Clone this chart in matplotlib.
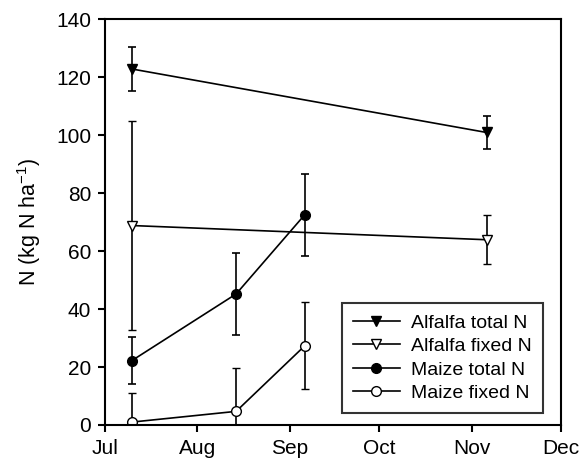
import numpy as np
import matplotlib
matplotlib.use('Agg')
import matplotlib.pyplot as plt

plt.rcParams['font.family'] = ['Liberation Sans', 'DejaVu Sans']
plt.rcParams['mathtext.fontset'] = 'custom'
plt.rcParams['mathtext.rm'] = 'Liberation Sans'
plt.rcParams['mathtext.default'] = 'regular'

# days counted from 1 July
month_ticks = [0, 31, 62, 92, 123, 153]
month_labels = ['Jul', 'Aug', 'Sep', 'Oct', 'Nov', 'Dec']

alfalfa_days = [9, 128]
alfalfa_total = [122.8, 100.9]
alfalfa_total_err = [7.5, 5.7]
alfalfa_fixed = [68.8, 63.9]
alfalfa_fixed_err = [36.0, 8.5]

maize_days = [9, 44, 67]
maize_total = [22.2, 45.2, 72.5]
maize_total_err = [8.1, 14.0, 14.1]
maize_fixed = [1.0, 4.7, 27.3]
maize_fixed_err = [10.2, 14.9, 15.0]

fig = plt.figure(figsize=(5.85, 4.66), dpi=100)
ax = fig.add_axes([0.1795, 0.088, 0.7795, 0.871])

common = dict(color='black', lw=1.2, capsize=3, elinewidth=1.2, capthick=1.2)
h1 = ax.errorbar(alfalfa_days, alfalfa_total, yerr=alfalfa_total_err, marker='v', ms=7,
                 mfc='black', mec='black', **common)
h2 = ax.errorbar(alfalfa_days, alfalfa_fixed, yerr=alfalfa_fixed_err, marker='v', ms=7,
                 mfc='white', mec='black', mew=1.0, **common)
h3 = ax.errorbar(maize_days, maize_total, yerr=maize_total_err, marker='o', ms=7,
                 mfc='black', mec='black', **common)
h4 = ax.errorbar(maize_days, maize_fixed, yerr=maize_fixed_err, marker='o', ms=7,
                 mfc='white', mec='black', mew=1.0, **common)

ax.set_xlim(0, 153)
ax.set_ylim(0, 140)
ax.set_xticks(month_ticks)
ax.set_xticklabels(month_labels)
ax.set_yticks(np.arange(0, 141, 20))
ax.tick_params(direction='out', length=5, width=1.5, labelsize=15, pad=5)
for s in ax.spines.values():
    s.set_linewidth(1.5)

ax.set_ylabel('N (kg N ha$^{-1}$)', fontsize=15.5, labelpad=9)

leg = ax.legend([h1[0], h2[0], h3[0], h4[0]],
                ['Alfalfa total N', 'Alfalfa fixed N', 'Maize total N', 'Maize fixed N'],
                loc='lower right', bbox_to_anchor=(0.96, 0.03), fontsize=14,
                frameon=True, fancybox=False, edgecolor='black', handlelength=2.4,
                borderpad=0.55, labelspacing=0.3, handletextpad=0.6, borderaxespad=0)
leg.get_frame().set_linewidth(1.5)

fig.savefig('out.png', dpi=100)
